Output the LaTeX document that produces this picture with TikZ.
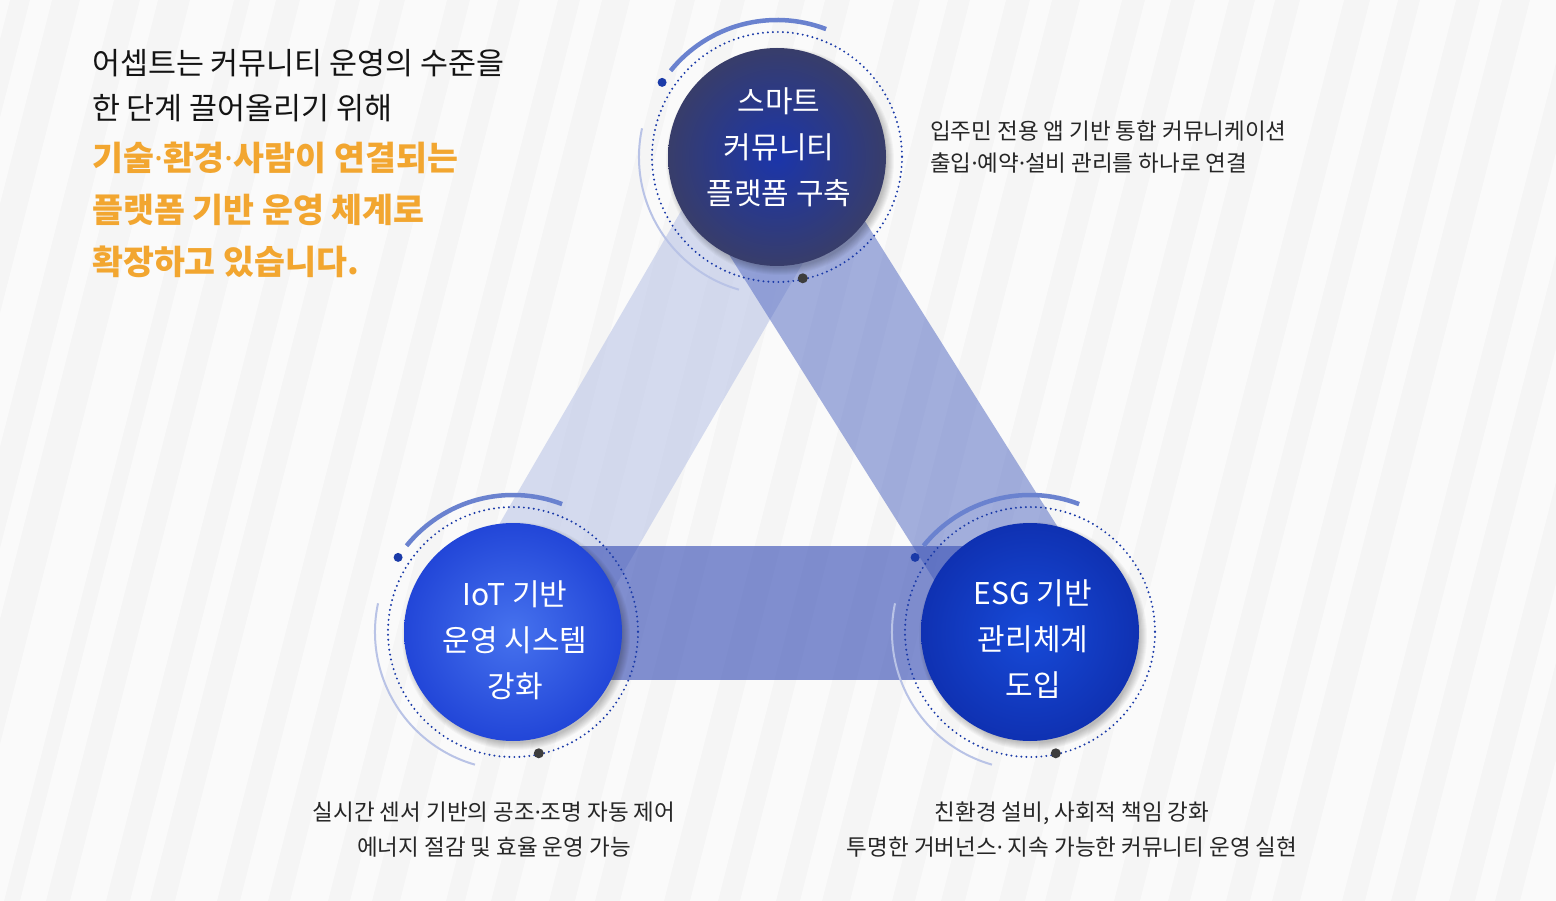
\documentclass[tikz,border=0pt]{standalone}
\usepackage{fontspec}
\setmainfont{Noto Sans CJK KR}
\newfontfamily\latinfont{Noto Sans}
\usepackage{tikz}
\usetikzlibrary{calc}

\newcommand{\mdot}{{\latinfont ·}}

\definecolor{bgbase}{HTML}{F5F5F5}
\definecolor{ringblue}{HTML}{1A3AA8}
\definecolor{arcblue}{HTML}{6A82CF}
\definecolor{arclight}{HTML}{B9C3E6}
\definecolor{dotgray}{HTML}{3D3D3D}
\definecolor{headorange}{HTML}{F2A630}
\definecolor{bandlight}{HTML}{B0BCE4}
\definecolor{banddark}{HTML}{5A70C4}
\definecolor{bandmid}{HTML}{3F55B8}
\definecolor{smartin}{HTML}{1B35AA}
\definecolor{smartout}{HTML}{383D6A}
\definecolor{iotin}{HTML}{4672EE}
\definecolor{iotout}{HTML}{2246D8}
\definecolor{esgin}{HTML}{174AD8}
\definecolor{esgout}{HTML}{0F31B2}

\tikzset{
  hub/.style={circle, minimum size=218pt, inner sep=0pt},
  hubtext/.style={text=white, align=center, inner sep=0pt, font=\fontsize{30}{46}\selectfont},
  headblack/.style={anchor=west, inner sep=0pt, text=black!92, font=\fontsize{30.4}{40}\selectfont},
  headorange/.style={anchor=west, inner sep=0pt, text=headorange, font=\fontsize{33.6}{40}\selectfont\bfseries},
  note/.style={inner sep=0pt, text=black!85, font=\fontsize{22.5}{35}\selectfont},
  ringdots/.style={ringblue, line width=2.2pt, line cap=round, dash pattern=on 0pt off 5pt},
  ringarc/.style={arcblue, line width=4.5pt},
  ringthin/.style={arclight, line width=2pt},
}

% shadow, rings and dots round one hub
\newcommand{\hubdeco}[1]{%
  \foreach \i in {1,...,8}
    \fill[black, opacity=0.03] ($(#1)+(3,4)$) circle[radius=106+\i];
  \draw[ringthin] ($(#1)+(-168:138)$) arc[start angle=-168, end angle=-254, radius=138];
  \draw[ringarc] ($(#1)+(-69:137)$) arc[start angle=-69, end angle=-141, radius=137];
  \draw[ringdots] (#1) circle[radius=125];
  \fill[ringblue] ($(#1)+(-147:137)$) circle[radius=4.5];
  \fill[dotgray] ($(#1)+(78:124)$) circle[radius=5];
}

\begin{document}
\begin{tikzpicture}[x=1pt, y=-1pt]
\useasboundingbox (0,0) rectangle (1556,901);

% background
\fill[bgbase] (0,0) rectangle (1556,901);
\foreach \x/\w in {-260/40,-200/22,-150/34,-90/18,-40/44,20/26,70/36,130/20,175/42,240/28,
                   290/38,350/22,400/46,465/26,515/34,575/20,620/44,690/28,740/36,800/22,
                   850/42,915/26,965/34,1025/20,1070/44,1140/28,1190/36,1250/22,1300/42,
                   1365/26,1415/34,1475/20,1520/44}
  \fill[white, opacity=0.55] (\x,901) -- ++(\w,0) -- ++(230,-901) -- ++(-\w,0) -- cycle;

\coordinate (c-smart) at (777,157);
\coordinate (c-iot) at (513,632);
\coordinate (c-esg) at (1030,632);

% bands between the hubs
\fill[bandlight, opacity=0.5] (699,180) -- (851,180) -- (584,640) -- (432,640) -- cycle;
\fill[banddark, opacity=0.55] (682,180) -- (839,180) -- (1129,640) -- (972,640) -- cycle;
\fill[bandmid, opacity=0.65] ($(c-iot)+(0,-86)$) rectangle ($(c-esg)+(0,48)$);

\foreach \c in {c-smart,c-iot,c-esg} {\hubdeco{\c}}

% hubs
\node[hub, inner color=smartin, outer color=smartout] (smart) at (c-smart) {};
\node[hubtext] (smart-label) at ($(smart)+(2,-10)$) {스마트\\커뮤니티\\플랫폼 구축};
\node[hub, inner color=iotin, outer color=iotout] (iot) at (c-iot) {};
\node[hubtext] (iot-label) at ($(iot)+(2,8)$) {IoT 기반\\운영 시스템\\강화};
\node[hub, inner color=esgin, outer color=esgout] (esg) at (c-esg) {};
\node[hubtext] (esg-label) at ($(esg)+(3,7)$) {ESG 기반\\관리체계\\도입};

% heading
\node[headblack] (head-1) at (92,63) {어셉트는 커뮤니티 운영의 수준을};
\node[headblack] (head-2) at (92,108) {한 단계 끌어올리기 위해};
\node[headorange] (head-3) at (92,158) {기술\mdot 환경\mdot 사람이 연결되는};
\node[headorange] (head-4) at (92,210) {플랫폼 기반 운영 체계로};
\node[headorange] (head-5) at (92,262) {확장하고 있습니다.};

% notes
\node[note, anchor=west, align=left, font=\fontsize{22.5}{32}\selectfont] (smart-note) at (930,146.5)
  {입주민 전용 앱 기반 통합 커뮤니케이션\\출입\mdot 예약\mdot 설비 관리를 하나로 연결};
\node[note, align=center] (iot-note) at (494,829.5)
  {실시간 센서 기반의 공조\mdot 조명 자동 제어\\에너지 절감 및 효율 운영 가능};
\node[note, align=center] (esg-note) at (1072,829.5)
  {친환경 설비, 사회적 책임 강화\\투명한 거버넌스\mdot{} 지속 가능한 커뮤니티 운영 실현};
\end{tikzpicture}
\end{document}
